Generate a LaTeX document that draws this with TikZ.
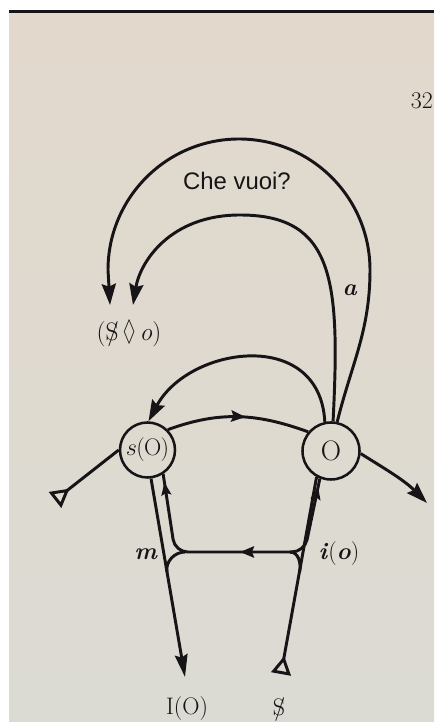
\documentclass[tikz,border=0pt]{standalone}
\usepackage{fontspec}
\usepackage{amssymb}
\newfontfamily\chefont{Liberation Sans}
\usetikzlibrary{arrows.meta,decorations.markings}
\definecolor{PageTop}{RGB}{226,217,204}
\definecolor{PageLow}{RGB}{219,218,211}
\definecolor{Ink}{RGB}{22,20,22}
\newcommand{\barredS}{\ooalign{S\cr\hidewidth\kern.08em/\hidewidth\cr}}

\tikzset{
  bigtip/.tip={Stealth[length=15pt,width=10pt,inset=2pt]},
  smalltip/.tip={Stealth[length=10pt,width=8pt,inset=1.5pt]},
  tailtip/.tip={Triangle[open,reversed,length=13pt,width=14pt]},
  place/.style={draw=Ink, circle, line width=1.8pt, inner sep=0pt},
  link/.style={draw=Ink, line width=2.1pt},
  midtip/.style={postaction={decorate}, decoration={markings,
      mark=at position #1 with {\arrow{Stealth[length=10pt,width=8pt,inset=1.5pt]}}}},
  neartip/.style={postaction={decorate}, decoration={markings,
      mark=at position -6pt with {\arrow{Stealth[length=9pt,width=7pt,inset=1.5pt]}}}},
  flowtip/.style={postaction={decorate}, decoration={markings,
      mark=at position 37pt with {\arrow{Stealth[length=10pt,width=8pt,inset=1.5pt]}},
      mark=at position -6pt with {\arrow{Stealth[length=9pt,width=7pt,inset=1.5pt]}}}},
}

\begin{document}
\begin{tikzpicture}[x=0.025cm, y=0.025cm, every node/.style={text=Ink, inner sep=1pt, font=\fontsize{17}{19}\selectfont}]
  \clip (0,0) rectangle (434,722);
  % page
  \fill[white] (0,0) rectangle (434,722);
  \shade[top color=PageTop, bottom color=PageLow] (9,0) rectangle (434,710);
  \fill[Ink] (9,709) rectangle (434,712);
  \node[anchor=east, inner sep=0pt, font=\fontsize{17}{17}\selectfont] (pagenum) at (433,621) {32};

  % places
  \node[place, minimum size=1.375cm] (sO) at (147.5,272) {\fontsize{17}{17}\selectfont$s$\kern-.5pt(\kern-.5pt O\kern-.5pt)};
  \node[place, minimum size=1.425cm] (O) at (331,271) {\fontsize{20}{20}\selectfont O};

  % labels
  \node (fant) at (129,388) {\fontsize{18}{20}\selectfont(\barredS\,\scalebox{.75}[1.15]{$\lozenge$}\,\textit{o})};
  \node (chevuoi) at (237,541) {\chefont\fontsize{17}{19}\selectfont Che vuoi?};
  \node (aobj) at (350,432) {\textbf{\textit{a}}};
  \node (IO) at (187,13) {I(O)};
  \node (barS) at (279,12) {\barredS};
  \node (mlab) at (146,168) {\textbf{\textit{m}}};
  \node (iolab) at (339,168) {\textbf{\textit{i}}(\textbf{\textit{o}})};

  % free ends and junctions
  \coordinate (lstart) at (55,222);
  \coordinate (rend) at (427,219);
  \coordinate (outtip) at (110,417);
  \coordinate (intip) at (133,417);
  \coordinate (IOtip) at (185,45);
  \coordinate (sstart) at (281,48);
  \coordinate (mcorner) at (175,170);
  \coordinate (icorner) at (304.5,170);
  \coordinate (mleft) at (185,170);
  \coordinate (iright) at (290,170);
  \coordinate (mmerge) at (167,150);
  \coordinate (imerge) at (299.6,150);

  % retroversion line
  \draw[link, {tailtip}-] (lstart) -- (sO.west);
  \draw[link, midtip=0.55] (sO.45) to[out=20,in=160] (O.140);
  \draw[link, -{bigtip}] (O.-5) to[out=-32,in=135] (rend);
  \draw[link, -{bigtip}] (O.102) .. controls +(-5,95) and +(40,75) .. (sO.88);

  % upper arches
  \draw[link, -{bigtip}] (O.78) to[out=76,in=-90] (370,452) arc[start angle=0, end angle=180, radius=131] -- (outtip);
  \draw[link, -{bigtip}] (O.86) .. controls (340,440) and (335,507) .. (240,507)
                               .. controls (170,507) and (140,460) .. (intip);

  % lower part
  \draw[link, -{Stealth[length=16pt,width=9pt,inset=2pt]}] (sO.-83) -- (IOtip);
  \draw[link, {tailtip}-] (sstart) -- (O.-119);
  \draw[link, rounded corners=9pt, flowtip] (292,170) -- (mcorner) -- (sO.-57);
  \draw[link, rounded corners=9pt, neartip] (iright) -- (icorner) -- (O.-112);
  \draw[link] (mleft) to[out=180,in=100] (mmerge);
  \draw[link] (iright) to[out=0,in=79] (imerge);
\end{tikzpicture}
\end{document}
